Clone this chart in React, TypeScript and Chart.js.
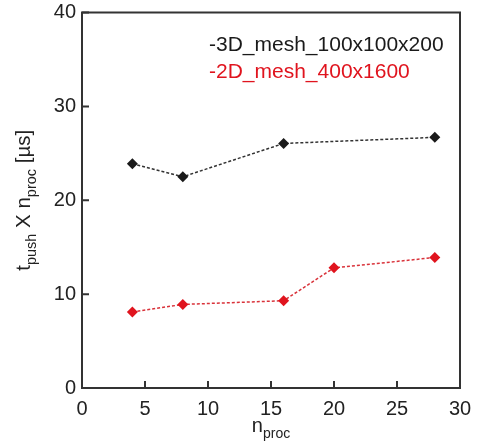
import React, { useEffect, useRef } from "react";
import { Chart, registerables } from "chart.js";

Chart.register(...registerables);

// Measured quantity vs. number of processes
const nProc3D = [4, 8, 16, 28];
const values3D = [23.9, 22.5, 26.05, 26.7];
const nProc2D = [4, 8, 16, 20, 28];
const values2D = [8.1, 8.9, 9.3, 12.8, 13.9];

const seriesLabels = ["-3D_mesh_100x100x200", "-2D_mesh_400x1600"];
const seriesColors = ["#1a1a1a", "#e0141e"];
const lineColors = ["#333333", "#d9323a"];

const xTicks = [0, 5, 10, 15, 20, 25, 30];
const yTicks = [0, 10, 20, 30, 40];

const FONT = "'Liberation Sans', Arial, Helvetica, sans-serif";

type Part = { text: string; sub?: boolean };

function drawParts(ctx: CanvasRenderingContext2D, parts: Part[], cx: number, baseline: number, size: number, subSize: number) {
  const widths = parts.map((p) => {
    ctx.font = `${p.sub ? subSize : size}px ${FONT}`;
    return ctx.measureText(p.text).width;
  });
  const total = widths.reduce((a, b) => a + b, 0);
  let x = cx - total / 2;
  ctx.textAlign = "left";
  ctx.textBaseline = "alphabetic";
  parts.forEach((p, i) => {
    ctx.font = `${p.sub ? subSize : size}px ${FONT}`;
    ctx.fillText(p.text, x, p.sub ? baseline + size * 0.3 : baseline);
    x += widths[i];
  });
}

const framePlugin = {
  id: "frameAndLabels",
  afterDraw(chart: any) {
    const { ctx, chartArea, scales } = chart;
    const { left, right, top, bottom } = chartArea;
    ctx.save();
    // inward tick marks
    ctx.strokeStyle = "#333";
    ctx.lineWidth = 2;
    ctx.beginPath();
    xTicks.forEach((v) => {
      const px = scales.x.getPixelForValue(v);
      ctx.moveTo(px, bottom);
      ctx.lineTo(px, bottom - 7);
    });
    yTicks.forEach((v) => {
      const py = scales.y.getPixelForValue(v);
      ctx.moveTo(left, py);
      ctx.lineTo(left + 7, py);
    });
    ctx.stroke();
    // plot frame
    ctx.strokeRect(left, top, right - left, bottom - top);

    // legend text
    ctx.font = `21px ${FONT}`;
    ctx.textAlign = "left";
    ctx.textBaseline = "alphabetic";
    seriesLabels.forEach((label, i) => {
      ctx.fillStyle = seriesColors[i];
      ctx.fillText(label, left + 127, top + 38 + i * 27.5);
    });

    // axis titles with subscripts
    ctx.fillStyle = "#222";
    drawParts(ctx, [{ text: "n" }, { text: "proc", sub: true }], (left + right) / 2, 432, 20, 14);
    ctx.translate(30, (top + bottom) / 2);
    ctx.rotate(-Math.PI / 2);
    drawParts(
      ctx,
      [
        { text: "t" },
        { text: "push", sub: true },
        { text: " X n" },
        { text: "proc", sub: true },
        { text: " [\u00b5s]" },
      ],
      0,
      0,
      20.5,
      14.5
    );
    ctx.restore();
  },
};

export default function App() {
  const ref = useRef<HTMLCanvasElement>(null);

  useEffect(() => {
    if (!ref.current) return;
    const chart = new Chart(ref.current, {
      type: "line",
      data: {
        datasets: [
          {
            label: seriesLabels[0],
            data: nProc3D.map((x, i) => ({ x, y: values3D[i] })),
            borderColor: lineColors[0],
            backgroundColor: seriesColors[0],
            borderWidth: 1.5,
            borderDash: [3, 2],
            pointStyle: "rectRot",
            pointRadius: 5.5,
            pointBorderWidth: 0,
          },
          {
            label: seriesLabels[1],
            data: nProc2D.map((x, i) => ({ x, y: values2D[i] })),
            borderColor: lineColors[1],
            backgroundColor: seriesColors[1],
            borderWidth: 1.5,
            borderDash: [3, 2],
            pointStyle: "rectRot",
            pointRadius: 5.5,
            pointBorderWidth: 0,
          },
        ],
      },
      options: {
        animation: false,
        responsive: false,
        layout: { padding: { top: 12.5, right: 21, left: 0, bottom: 0 } },
        plugins: { legend: { display: false }, tooltip: { enabled: false } },
        scales: {
          x: {
            type: "linear",
            min: 0,
            max: 30,
            afterFit: (s: any) => {
              s.height = 58;
              s.paddingLeft = 0;
              s.paddingRight = 0;
            },
            afterBuildTicks: (s: any) => {
              s.ticks = xTicks.map((v) => ({ value: v }));
            },
            grid: { display: false, drawTicks: false },
            border: { display: false },
            ticks: { color: "#222", font: { family: FONT, size: 20 }, padding: 9, maxRotation: 0 },
          },
          y: {
            type: "linear",
            min: 0,
            max: 40,
            afterFit: (s: any) => {
              s.width = 82;
              s.paddingTop = 0;
              s.paddingBottom = 0;
            },
            afterBuildTicks: (s: any) => {
              s.ticks = yTicks.map((v) => ({ value: v }));
            },
            grid: { display: false, drawTicks: false },
            border: { display: false },
            ticks: { color: "#222", font: { family: FONT, size: 20 }, padding: 6 },
          },
        },
      },
      plugins: [framePlugin],
    });
    return () => chart.destroy();
  }, []);

  return (
    <div style={{ position: "absolute", left: 0, top: 0, width: 481, height: 446, background: "#fff" }}>
      <canvas ref={ref} width={481} height={446} />
    </div>
  );
}
